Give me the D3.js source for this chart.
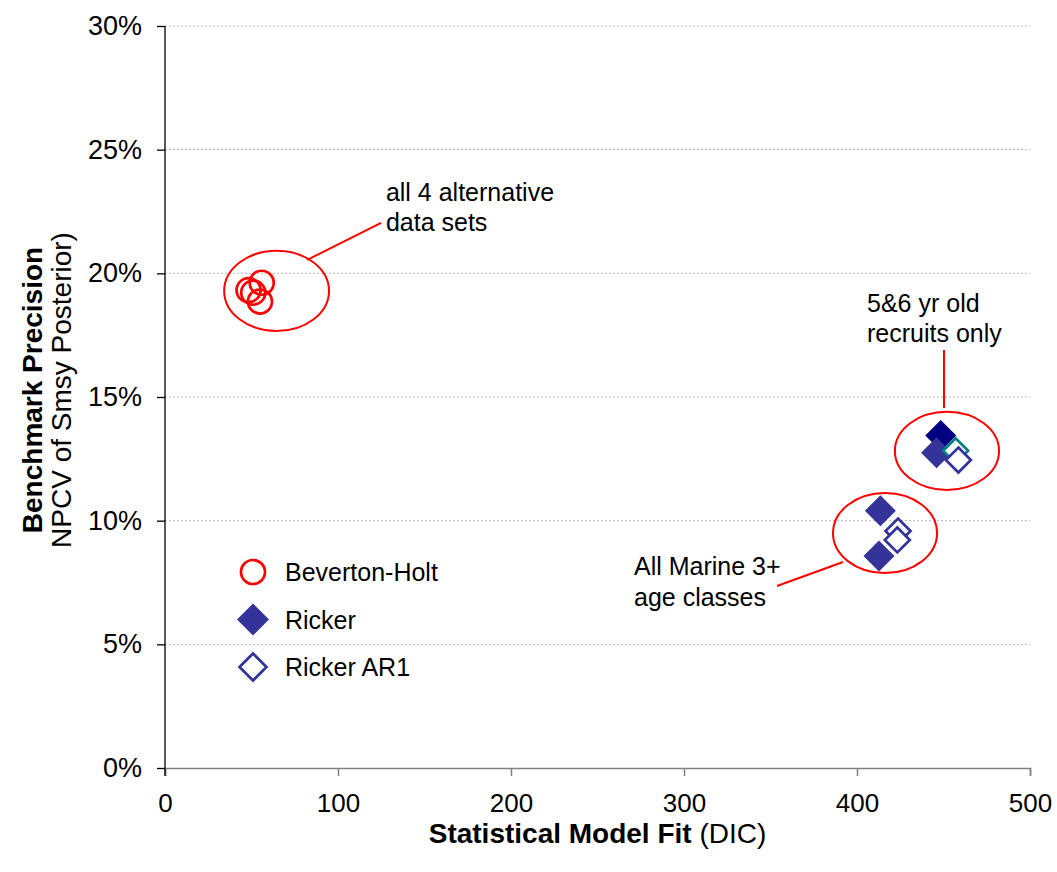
<!DOCTYPE html>
<html lang="en">
<head>
  <meta charset="utf-8">
  <title>Benchmark precision vs model fit</title>
  <script src="https://cdn.jsdelivr.net/npm/d3@7"></script>
  <style>
    body { margin: 0; background: #fff; }
    text { font-family: Arial, "Liberation Sans", sans-serif; fill: #000; }
  </style>
</head>
<body>
<svg id="chart"></svg>
<script>
  // data (x = DIC, y = NPCV in %)
  var bhX = [48.3, 51.0, 55.9, 54.9];
  var bhY = [19.32, 19.22, 19.62, 18.86];
  var rickerX = [446, 413.5, 412.7];
  var rickerY = [12.75, 10.40, 8.57];
  var ar1X = [458.6, 423.7, 423.3];
  var ar1Y = [12.45, 9.58, 9.22];
  // two extra points not in the legend
  var navyX = [448.4];
  var navyY = [13.44];
  var tealX = [457];
  var tealY = [12.83];

  var xTicks = [0, 100, 200, 300, 400, 500];
  var yTicks = [0, 5, 10, 15, 20, 25, 30];
  var legendNames = ["Beverton-Holt", "Ricker", "Ricker AR1"];

  // annotations (in data units)
  var ellipseCx = [64.5, 452, 416.2];
  var ellipseCy = [19.29, 12.82, 9.50];
  var ellipseRx = [30.3, 30.1, 30.1];
  var ellipseRy = [1.62, 1.58, 1.62];
  var noteLines = [["all 4 alternative", "data sets"], ["5&6 yr old", "recruits only"], ["All Marine 3+", "age classes"]];
  var noteX = [127.7, 405.8, 271.1];
  var noteY = [22.93, 18.44, 7.80];
  var leaderX1 = [82.1, 450.3, 353.8], leaderY1 = [20.54, 16.90, 7.36];
  var leaderX2 = [124.9, 450.3, 391.9], leaderY2 = [22.04, 14.56, 8.33];

  var W = 1057, H = 872;
  var mLeft = 165, mRight = 1030, mTop = 26, mBottom = 768;

  var svg = d3.select("#chart").attr("width", W).attr("height", H);

  var x = d3.scaleLinear().domain([0, 500]).range([mLeft, mRight]);
  var y = d3.scaleLinear().domain([0, 30]).range([mBottom, mTop]);

  var red = "#ff0000", slate = "#333399";

  // gridlines
  svg.append("g").selectAll("line")
    .data(yTicks.filter(function(d) { return d > 0; }))
    .enter().append("line")
    .attr("x1", mLeft).attr("x2", mRight)
    .attr("y1", function(d) { return y(d); })
    .attr("y2", function(d) { return y(d); })
    .attr("stroke", "#b8b8b8")
    .attr("stroke-dasharray", "2,2");

  // x axis (grey)
  var xAxis = svg.append("g")
    .attr("transform", "translate(0," + mBottom + ")")
    .call(d3.axisBottom(x).tickValues(xTicks).tickSizeOuter(0).tickSize(8).tickPadding(18));
  xAxis.select(".domain").attr("stroke", "#808080").attr("stroke-width", 1.5);
  xAxis.selectAll(".tick line").attr("stroke", "#808080").attr("stroke-width", 1.5);
  xAxis.selectAll("text").attr("font-size", 26).attr("dy", "0.71em").attr("fill", "#000");

  // y axis (black)
  var yAxis = svg.append("g")
    .attr("transform", "translate(" + mLeft + ",0)")
    .call(d3.axisLeft(y).tickValues(yTicks).tickSizeOuter(0).tickSize(8).tickPadding(15)
      .tickFormat(function(d) { return d + "%"; }));
  yAxis.select(".domain").attr("stroke", "#000").attr("stroke-width", 1.3)
    .attr("d", "M0," + mTop + "V" + (mBottom + 8));
  yAxis.selectAll(".tick line").attr("stroke", "#000").attr("stroke-width", 1.3);
  yAxis.selectAll("text").attr("font-size", 27).attr("fill", "#000");

  // axis titles
  var xt = svg.append("text")
    .attr("x", (mLeft + mRight) / 2).attr("y", 843)
    .attr("text-anchor", "middle").attr("font-size", 28);
  xt.append("tspan").attr("font-weight", "bold").text("Statistical Model Fit");
  xt.append("tspan").text(" (DIC)");

  var ymid = (mTop + mBottom) / 2 - 7;
  svg.append("text")
    .attr("transform", "translate(42," + ymid + ") rotate(-90)")
    .attr("text-anchor", "middle").attr("font-size", 28).attr("font-weight", "bold")
    .text("Benchmark Precision");
  svg.append("text")
    .attr("transform", "translate(71," + ymid + ") rotate(-90)")
    .attr("text-anchor", "middle").attr("font-size", 28)
    .text("NPCV of Smsy Posterior)");

  // markers
  var diamond = function(s) { return "M0," + (-s) + "L" + s + ",0L0," + s + "L" + (-s) + ",0Z"; };

  svg.append("g").selectAll("circle")
    .data(d3.range(bhX.length))
    .enter().append("circle")
    .attr("cx", function(i) { return x(bhX[i]); })
    .attr("cy", function(i) { return y(bhY[i]); })
    .attr("r", 12)
    .attr("fill", "none").attr("stroke", red).attr("stroke-width", 2.7);

  svg.append("g").selectAll("path")
    .data(d3.range(navyX.length))
    .enter().append("path")
    .attr("transform", function(i) { return "translate(" + x(navyX[i]) + "," + y(navyY[i]) + ")"; })
    .attr("d", diamond(15.5)).attr("fill", "#000080");

  svg.append("g").selectAll("path")
    .data(d3.range(rickerX.length))
    .enter().append("path")
    .attr("transform", function(i) { return "translate(" + x(rickerX[i]) + "," + y(rickerY[i]) + ")"; })
    .attr("d", diamond(15.5)).attr("fill", slate);

  svg.append("g").selectAll("path")
    .data(d3.range(tealX.length))
    .enter().append("path")
    .attr("transform", function(i) { return "translate(" + x(tealX[i]) + "," + y(tealY[i]) + ")"; })
    .attr("d", diamond(12.5)).attr("fill", "#fff").attr("stroke", "#008080").attr("stroke-width", 2.7);

  svg.append("g").selectAll("path")
    .data(d3.range(ar1X.length))
    .enter().append("path")
    .attr("transform", function(i) { return "translate(" + x(ar1X[i]) + "," + y(ar1Y[i]) + ")"; })
    .attr("d", diamond(12.5)).attr("fill", "#fff").attr("stroke", slate).attr("stroke-width", 2.7);

  // annotation ellipses, leader lines and notes
  var ann = svg.append("g");
  ellipseCx.forEach(function(cx, i) {
    ann.append("ellipse")
      .attr("cx", x(cx)).attr("cy", y(ellipseCy[i]))
      .attr("rx", x(ellipseRx[i]) - x(0))
      .attr("ry", y(0) - y(ellipseRy[i]))
      .attr("fill", "none").attr("stroke", red).attr("stroke-width", 2);
    ann.append("line")
      .attr("x1", x(leaderX1[i])).attr("y1", y(leaderY1[i]))
      .attr("x2", x(leaderX2[i])).attr("y2", y(leaderY2[i]))
      .attr("stroke", red).attr("stroke-width", 2);
    noteLines[i].forEach(function(t, j) {
      ann.append("text")
        .attr("x", x(noteX[i])).attr("y", y(noteY[i]) + j * 30.5)
        .attr("font-size", 25).text(t);
    });
  });

  // legend
  var lg = svg.append("g").attr("transform", "translate(253,572)");
  var rows = lg.selectAll("g").data(legendNames).enter().append("g")
    .attr("transform", function(d, i) { return "translate(0," + (i * 47.5) + ")"; });
  rows.append("text").attr("x", 32).attr("y", 9).attr("font-size", 25).text(function(d) { return d; });
  d3.select(rows.nodes()[0]).append("circle").attr("r", 12)
    .attr("fill", "none").attr("stroke", red).attr("stroke-width", 2.7);
  d3.select(rows.nodes()[1]).append("path").attr("d", diamond(16)).attr("fill", slate);
  d3.select(rows.nodes()[2]).append("path").attr("d", diamond(13.5))
    .attr("fill", "#fff").attr("stroke", slate).attr("stroke-width", 2.7);
</script>
</body>
</html>
